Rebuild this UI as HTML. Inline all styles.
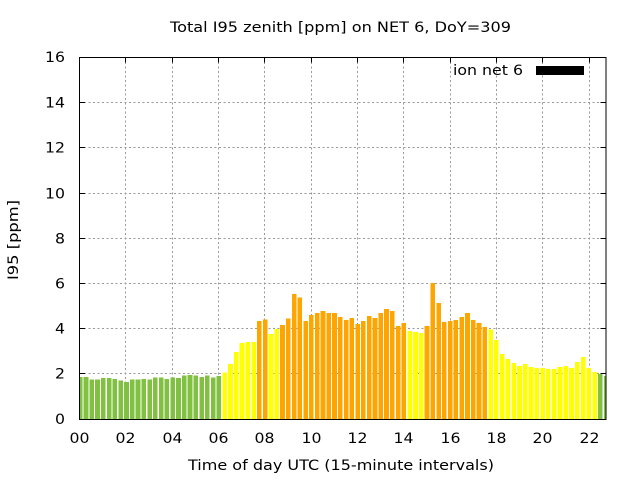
<!DOCTYPE html>
<html>
<head>
<meta charset="utf-8">
<style>
  html, body { margin: 0; padding: 0; background: #ffffff; }
  svg { display: block; }
  text { font-family: "DejaVu Sans", "Liberation Sans", sans-serif; font-size: 14px; fill: #000; }
  .g rect { fill: #80c141; }
  .y rect { fill: #ffff00; }
  .o rect { fill: #ffa500; }
</style>
</head>
<body>
<svg width="640" height="480" viewBox="0 0 640 480" xmlns="http://www.w3.org/2000/svg">
  <rect x="0" y="0" width="640" height="480" fill="#ffffff"/>
  <defs>
    <clipPath id="plot" clipPathUnits="userSpaceOnUse">
      <rect x="79.5" y="57" width="526.5" height="362.5"/>
    </clipPath>
  </defs>

  <!-- grid -->
  <g stroke="#999999" stroke-width="1" stroke-dasharray="2 2.5" fill="none">
    <line x1="125.5" y1="57.5" x2="125.5" y2="419"/>
    <line x1="172.5" y1="57.5" x2="172.5" y2="419"/>
    <line x1="218.5" y1="57.5" x2="218.5" y2="419"/>
    <line x1="264.5" y1="57.5" x2="264.5" y2="419"/>
    <line x1="311.5" y1="57.5" x2="311.5" y2="419"/>
    <line x1="357.5" y1="57.5" x2="357.5" y2="419"/>
    <line x1="403.5" y1="57.5" x2="403.5" y2="419"/>
    <line x1="450.5" y1="57.5" x2="450.5" y2="419"/>
    <line x1="496.5" y1="57.5" x2="496.5" y2="419"/>
    <line x1="542.5" y1="57.5" x2="542.5" y2="419"/>
    <line x1="589.5" y1="57.5" x2="589.5" y2="419"/>
    <line x1="79.5" y1="373.5" x2="606" y2="373.5"/>
    <line x1="79.5" y1="328.5" x2="606" y2="328.5"/>
    <line x1="79.5" y1="283.5" x2="606" y2="283.5"/>
    <line x1="79.5" y1="238.5" x2="606" y2="238.5"/>
    <line x1="79.5" y1="193.5" x2="606" y2="193.5"/>
    <line x1="79.5" y1="147.5" x2="606" y2="147.5"/>
    <line x1="79.5" y1="102.5" x2="606" y2="102.5"/>
  </g>

  <!-- ticks -->
  <g stroke="#000" stroke-width="1" fill="none">
    <line x1="79.5" y1="373.5" x2="85" y2="373.5"/>
    <line x1="79.5" y1="328.5" x2="85" y2="328.5"/>
    <line x1="79.5" y1="283.5" x2="85" y2="283.5"/>
    <line x1="79.5" y1="238.5" x2="85" y2="238.5"/>
    <line x1="79.5" y1="193.5" x2="85" y2="193.5"/>
    <line x1="79.5" y1="147.5" x2="85" y2="147.5"/>
    <line x1="79.5" y1="102.5" x2="85" y2="102.5"/>
    <line x1="606" y1="373.5" x2="600.5" y2="373.5"/>
    <line x1="606" y1="328.5" x2="600.5" y2="328.5"/>
    <line x1="606" y1="283.5" x2="600.5" y2="283.5"/>
    <line x1="606" y1="238.5" x2="600.5" y2="238.5"/>
    <line x1="606" y1="193.5" x2="600.5" y2="193.5"/>
    <line x1="606" y1="147.5" x2="600.5" y2="147.5"/>
    <line x1="606" y1="102.5" x2="600.5" y2="102.5"/>
    <line x1="125.5" y1="57.5" x2="125.5" y2="62.5"/>
    <line x1="172.5" y1="57.5" x2="172.5" y2="62.5"/>
    <line x1="218.5" y1="57.5" x2="218.5" y2="62.5"/>
    <line x1="264.5" y1="57.5" x2="264.5" y2="62.5"/>
    <line x1="311.5" y1="57.5" x2="311.5" y2="62.5"/>
    <line x1="357.5" y1="57.5" x2="357.5" y2="62.5"/>
    <line x1="403.5" y1="57.5" x2="403.5" y2="62.5"/>
    <line x1="450.5" y1="57.5" x2="450.5" y2="62.5"/>
    <line x1="496.5" y1="57.5" x2="496.5" y2="62.5"/>
    <line x1="542.5" y1="57.5" x2="542.5" y2="62.5"/>
    <line x1="589.5" y1="57.5" x2="589.5" y2="62.5"/>
    <line x1="125.5" y1="419" x2="125.5" y2="414"/>
    <line x1="172.5" y1="419" x2="172.5" y2="414"/>
    <line x1="218.5" y1="419" x2="218.5" y2="414"/>
    <line x1="264.5" y1="419" x2="264.5" y2="414"/>
    <line x1="311.5" y1="419" x2="311.5" y2="414"/>
    <line x1="357.5" y1="419" x2="357.5" y2="414"/>
    <line x1="403.5" y1="419" x2="403.5" y2="414"/>
    <line x1="450.5" y1="419" x2="450.5" y2="414"/>
    <line x1="496.5" y1="419" x2="496.5" y2="414"/>
    <line x1="542.5" y1="419" x2="542.5" y2="414"/>
    <line x1="589.5" y1="419" x2="589.5" y2="414"/>
  </g>

  <!-- bars -->
  <g clip-path="url(#plot)" shape-rendering="crispEdges">
    <g transform="matrix(5.78 0 0 -22.6 77.9 419.3)">
      <g class="g">
        <rect x="0" y="0" width="0.8" height="1.88"/>
        <rect x="1" y="0" width="0.8" height="1.88"/>
        <rect x="2" y="0" width="0.8" height="1.75"/>
        <rect x="3" y="0" width="0.8" height="1.75"/>
        <rect x="4" y="0" width="0.8" height="1.83"/>
        <rect x="5" y="0" width="0.8" height="1.83"/>
        <rect x="6" y="0" width="0.8" height="1.78"/>
        <rect x="7" y="0" width="0.8" height="1.71"/>
        <rect x="8" y="0" width="0.8" height="1.66"/>
        <rect x="9" y="0" width="0.8" height="1.75"/>
        <rect x="10" y="0" width="0.8" height="1.75"/>
        <rect x="11" y="0" width="0.8" height="1.79"/>
        <rect x="12" y="0" width="0.8" height="1.75"/>
        <rect x="13" y="0" width="0.8" height="1.84"/>
        <rect x="14" y="0" width="0.8" height="1.84"/>
        <rect x="15" y="0" width="0.8" height="1.79"/>
        <rect x="16" y="0" width="0.8" height="1.84"/>
        <rect x="17" y="0" width="0.8" height="1.82"/>
        <rect x="18" y="0" width="0.8" height="1.93"/>
        <rect x="19" y="0" width="0.8" height="1.97"/>
        <rect x="20" y="0" width="0.8" height="1.93"/>
        <rect x="21" y="0" width="0.8" height="1.88"/>
        <rect x="22" y="0" width="0.8" height="1.93"/>
        <rect x="23" y="0" width="0.8" height="1.84"/>
        <rect x="24" y="0" width="0.8" height="1.91"/>
        <rect x="90" y="0" width="0.8" height="2.00"/>
        <rect x="91" y="0" width="0.8" height="1.92"/>
      </g>
      <g class="y">
        <rect x="25" y="0" width="0.8" height="2.06"/>
        <rect x="26" y="0" width="0.8" height="2.45"/>
        <rect x="27" y="0" width="0.8" height="2.98"/>
        <rect x="28" y="0" width="0.8" height="3.38"/>
        <rect x="29" y="0" width="0.8" height="3.42"/>
        <rect x="30" y="0" width="0.8" height="3.42"/>
        <rect x="33" y="0" width="0.8" height="3.77"/>
        <rect x="34" y="0" width="0.8" height="3.99"/>
        <rect x="57" y="0" width="0.8" height="3.91"/>
        <rect x="58" y="0" width="0.8" height="3.86"/>
        <rect x="59" y="0" width="0.8" height="3.82"/>
        <rect x="71" y="0" width="0.8" height="3.97"/>
        <rect x="72" y="0" width="0.8" height="3.51"/>
        <rect x="73" y="0" width="0.8" height="2.89"/>
        <rect x="74" y="0" width="0.8" height="2.67"/>
        <rect x="75" y="0" width="0.8" height="2.49"/>
        <rect x="76" y="0" width="0.8" height="2.36"/>
        <rect x="77" y="0" width="0.8" height="2.45"/>
        <rect x="78" y="0" width="0.8" height="2.31"/>
        <rect x="79" y="0" width="0.8" height="2.27"/>
        <rect x="80" y="0" width="0.8" height="2.27"/>
        <rect x="81" y="0" width="0.8" height="2.23"/>
        <rect x="82" y="0" width="0.8" height="2.23"/>
        <rect x="83" y="0" width="0.8" height="2.31"/>
        <rect x="84" y="0" width="0.8" height="2.36"/>
        <rect x="85" y="0" width="0.8" height="2.27"/>
        <rect x="86" y="0" width="0.8" height="2.54"/>
        <rect x="87" y="0" width="0.8" height="2.76"/>
        <rect x="88" y="0" width="0.8" height="2.27"/>
        <rect x="89" y="0" width="0.8" height="2.09"/>
      </g>
      <g class="o">
        <rect x="31" y="0" width="0.8" height="4.36"/>
        <rect x="32" y="0" width="0.8" height="4.41"/>
        <rect x="35" y="0" width="0.8" height="4.17"/>
        <rect x="36" y="0" width="0.8" height="4.45"/>
        <rect x="37" y="0" width="0.8" height="5.54"/>
        <rect x="38" y="0" width="0.8" height="5.38"/>
        <rect x="39" y="0" width="0.8" height="4.36"/>
        <rect x="40" y="0" width="0.8" height="4.62"/>
        <rect x="41" y="0" width="0.8" height="4.70"/>
        <rect x="42" y="0" width="0.8" height="4.79"/>
        <rect x="43" y="0" width="0.8" height="4.70"/>
        <rect x="44" y="0" width="0.8" height="4.70"/>
        <rect x="45" y="0" width="0.8" height="4.53"/>
        <rect x="46" y="0" width="0.8" height="4.39"/>
        <rect x="47" y="0" width="0.8" height="4.48"/>
        <rect x="48" y="0" width="0.8" height="4.22"/>
        <rect x="49" y="0" width="0.8" height="4.35"/>
        <rect x="50" y="0" width="0.8" height="4.57"/>
        <rect x="51" y="0" width="0.8" height="4.48"/>
        <rect x="52" y="0" width="0.8" height="4.70"/>
        <rect x="53" y="0" width="0.8" height="4.88"/>
        <rect x="54" y="0" width="0.8" height="4.79"/>
        <rect x="55" y="0" width="0.8" height="4.13"/>
        <rect x="56" y="0" width="0.8" height="4.26"/>
        <rect x="60" y="0" width="0.8" height="4.13"/>
        <rect x="61" y="0" width="0.8" height="6.03"/>
        <rect x="62" y="0" width="0.8" height="5.15"/>
        <rect x="63" y="0" width="0.8" height="4.31"/>
        <rect x="64" y="0" width="0.8" height="4.35"/>
        <rect x="65" y="0" width="0.8" height="4.39"/>
        <rect x="66" y="0" width="0.8" height="4.53"/>
        <rect x="67" y="0" width="0.8" height="4.70"/>
        <rect x="68" y="0" width="0.8" height="4.39"/>
        <rect x="69" y="0" width="0.8" height="4.26"/>
        <rect x="70" y="0" width="0.8" height="4.08"/>
      </g>
    </g>
  </g>

  <!-- border -->
  <rect x="79.5" y="57.5" width="526.5" height="362" fill="none" stroke="#000" stroke-width="1"/>

  <!-- legend -->
  <text x="523" y="75" text-anchor="end" textLength="70" lengthAdjust="spacingAndGlyphs">ion net 6</text>
  <rect x="536" y="66" width="48" height="9" fill="#000"/>

  <!-- y tick labels -->
  <g text-anchor="end">
    <text x="65" y="424" textLength="10" lengthAdjust="spacingAndGlyphs">0</text>
    <text x="65" y="378.5" textLength="10" lengthAdjust="spacingAndGlyphs">2</text>
    <text x="65" y="333.5" textLength="10" lengthAdjust="spacingAndGlyphs">4</text>
    <text x="65" y="288.5" textLength="10" lengthAdjust="spacingAndGlyphs">6</text>
    <text x="65" y="243.5" textLength="10" lengthAdjust="spacingAndGlyphs">8</text>
    <text x="65" y="198.5" textLength="20" lengthAdjust="spacingAndGlyphs">10</text>
    <text x="65" y="152.5" textLength="20" lengthAdjust="spacingAndGlyphs">12</text>
    <text x="65" y="107.5" textLength="20" lengthAdjust="spacingAndGlyphs">14</text>
    <text x="65" y="62" textLength="20" lengthAdjust="spacingAndGlyphs">16</text>
  </g>

  <!-- x tick labels -->
  <g text-anchor="middle">
    <text x="79.5" y="443" textLength="20" lengthAdjust="spacingAndGlyphs">00</text>
    <text x="125.5" y="443" textLength="20" lengthAdjust="spacingAndGlyphs">02</text>
    <text x="172.5" y="443" textLength="20" lengthAdjust="spacingAndGlyphs">04</text>
    <text x="218.5" y="443" textLength="20" lengthAdjust="spacingAndGlyphs">06</text>
    <text x="264.5" y="443" textLength="20" lengthAdjust="spacingAndGlyphs">08</text>
    <text x="311.5" y="443" textLength="20" lengthAdjust="spacingAndGlyphs">10</text>
    <text x="357.5" y="443" textLength="20" lengthAdjust="spacingAndGlyphs">12</text>
    <text x="403.5" y="443" textLength="20" lengthAdjust="spacingAndGlyphs">14</text>
    <text x="450.5" y="443" textLength="20" lengthAdjust="spacingAndGlyphs">16</text>
    <text x="496.5" y="443" textLength="20" lengthAdjust="spacingAndGlyphs">18</text>
    <text x="542.5" y="443" textLength="20" lengthAdjust="spacingAndGlyphs">20</text>
    <text x="589.5" y="443" textLength="20" lengthAdjust="spacingAndGlyphs">22</text>
  </g>

  <!-- titles -->
  <text x="170" y="32" textLength="341" lengthAdjust="spacingAndGlyphs">Total I95 zenith [ppm] on NET 6, DoY=309</text>
  <text x="188" y="470" textLength="306" lengthAdjust="spacingAndGlyphs">Time of day UTC (15-minute intervals)</text>
  <text transform="translate(18 280) rotate(-90)" x="0" y="0" textLength="80" lengthAdjust="spacingAndGlyphs">I95 [ppm]</text>
</svg>
</body>
</html>
